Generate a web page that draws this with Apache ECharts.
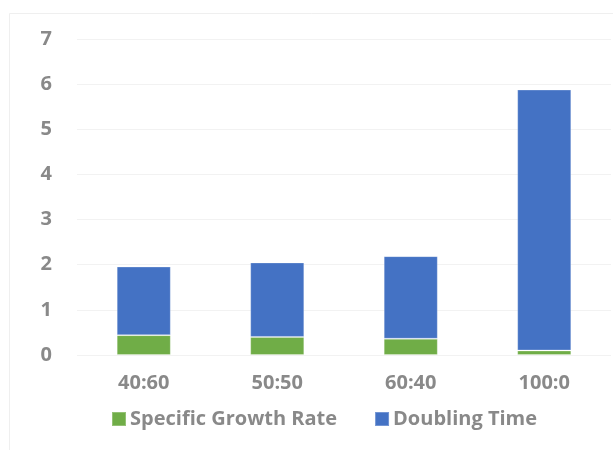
<!DOCTYPE html>
<html>
<head>
<meta charset="utf-8">
<script src="https://cdn.jsdelivr.net/npm/echarts@6/dist/echarts.min.js"></script>
<style>
  html, body { margin: 0; padding: 0; background: #fff; }
  #chart { width: 613px; height: 450px; }
</style>
</head>
<body>
<div id="chart"></div>
<script>
// Data
const ratios = ["40:60", "50:50", "60:40", "100:0"];
const growthRate = [0.44, 0.40, 0.36, 0.10];
const doublingTime = [1.52, 1.65, 1.83, 5.78];
const yTicks = [0, 1, 2, 3, 4, 5, 6, 7];

const textColor = '#898989';
const fontFamily = '"Open Sans", sans-serif';

const chart = echarts.init(document.getElementById('chart'));

const option = {
    backgroundColor: '#fff',
    animation: false,
    textStyle: { fontFamily: fontFamily },
    graphic: [
        {
            // light frame of the original chart area
            type: 'rect',
            shape: { x: 9.5, y: 13.5, width: 620, height: 450 },
            style: { fill: 'none', stroke: '#efefef', lineWidth: 1 },
            silent: true
        }
    ],
    grid: {
        left: 77,
        right: 2,
        top: 39,
        bottom: 95
    },
    legend: {
        left: 111,
        top: 409,
        padding: 0,
        itemWidth: 14,
        itemHeight: 14,
        itemGap: 37,
        icon: 'rect',
        textStyle: {
            color: textColor,
            fontSize: 20,
            fontWeight: 'bold',
            fontFamily: fontFamily,
            padding: [0, 0, 0, -1]
        },
        data: ['Specific Growth Rate', 'Doubling Time']
    },
    xAxis: {
        type: 'category',
        data: ratios,
        axisLine: { show: false },
        axisTick: { show: false },
        axisLabel: {
            color: textColor,
            fontSize: 20,
            fontWeight: 'bold',
            margin: 18
        }
    },
    yAxis: {
        type: 'value',
        min: yTicks[0],
        max: yTicks[yTicks.length - 1],
        interval: 1,
        axisLine: { show: false },
        axisTick: { show: false },
        splitLine: { lineStyle: { color: '#f2f2f2', width: 1 } },
        axisLabel: {
            color: textColor,
            fontSize: 20,
            fontWeight: 'bold',
            margin: 25
        }
    },
    series: [
        {
            name: 'Specific Growth Rate',
            type: 'bar',
            stack: 'total',
            barWidth: '40.5%',
            data: growthRate,
            itemStyle: { color: '#70AD47', borderColor: 'rgba(255,255,255,0.25)', borderWidth: 1 }
        },
        {
            name: 'Doubling Time',
            type: 'bar',
            stack: 'total',
            barWidth: '40.5%',
            data: doublingTime,
            itemStyle: { color: '#4472C4', borderColor: 'rgba(255,255,255,0.25)', borderWidth: 1 }
        }
    ]
};

chart.setOption(option);
</script>
</body>
</html>
